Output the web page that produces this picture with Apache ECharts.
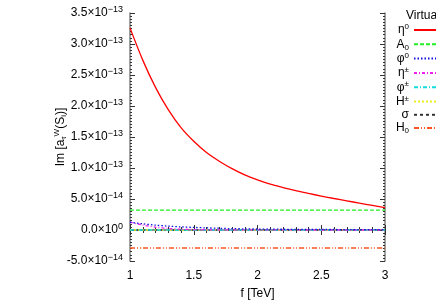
<!DOCTYPE html>
<html><head><meta charset="utf-8">
<script src="https://cdn.jsdelivr.net/npm/echarts@6/dist/echarts.min.js"></script>
<style>html,body{margin:0;padding:0;background:#fff}#c{width:436px;height:305px}</style>
</head><body><div id="c"></div>
<script>
// f in TeV
const fValues = [1.0,1.1,1.2,1.3,1.4,1.5,1.6,1.7,1.8,1.9,2.0,2.1,2.2,2.3,2.4,2.5,2.6,2.7,2.8,2.9,3.0];
// Im[a] values, in units of 1e-14
const eta0   = [32.6,27.4,23.0,19.4,16.5,14.3,12.5,11.1,9.9,8.9,8.1,7.4,6.85,6.35,5.9,5.48,5.08,4.7,4.33,3.97,3.6];
const A0     = [3.2,3.2,3.2,3.2,3.2,3.2,3.2,3.2,3.2,3.2,3.2,3.2,3.2,3.2,3.2,3.2,3.2,3.2,3.2,3.2,3.2];
const phi0   = [1.25,1.0,0.78,0.62,0.5,0.42,0.34,0.28,0.22,0.19,0.16,0.14,0.12,0.11,0.1,0.09,0.08,0.07,0.07,0.06,0.06];
const etaPM  = [1.25,0.8,0.45,0.25,0.13,0.07,0.04,0.03,0.02,0.02,0.01,0.01,0.01,0.01,0,0,0,0,0,0,0];
const phiPM  = [0,0,0,0,0,0,0,0,0,0,0,0,0,0,0,0,0,0,0,0,0];
const HPM    = [0,0,0,0,0,0,0,0,0,0,0,0,0,0,0,0,0,0,0,0,0];
const sigma  = [0,0,0,0,0,0,0,0,0,0,0,0,0,0,0,0,0,0,0,0,0];
const H0     = [-2.9,-2.9,-2.9,-2.9,-2.9,-2.9,-2.9,-2.9,-2.9,-2.9,-2.9,-2.9,-2.9,-2.9,-2.9,-2.9,-2.9,-2.9,-2.9,-2.9,-2.9];
const xTicks = [1, 1.5, 2, 2.5, 3];
const legendTitle = 'Virtual';
const seriesNames = ['η0','A0','φ0','η±','φ±','H±','σ','H0'];
const legendRich = {'η0':'{n|η}{p|0}','A0':'{n|A}{b|0}','φ0':'{n|φ}{p|0}','η±':'{n|η}{p|±}','φ±':'{n|φ}{p|±}','H±':'{n|H}{p|±}','σ':'{n|σ}','H0':'{n|H}{b|0}'};

const seriesData = [eta0, A0, phi0, etaPM, phiPM, HPM, sigma, H0];
const colors = ['#ff0000','#22ee22','#1010e0','#ee22ee','#11dddd','#eeee22','#333333','#ff5522'];
const dashes = ['solid',[4,2],[1.5,2],[3,2,1,2],[4,2,1,2],[2,2],[3,3],[5,2,1,2,1,2]];

const FONT = 'Liberation Sans';
function yFmt(v){
  if (Math.abs(v) < 1e-9) return '{m|0.0×10}{e|0}';
  const neg = v < 0 ? '-' : '';
  const a = Math.abs(v);
  if (a >= 10) return '{m|' + neg + (a/10).toFixed(1) + '×10}{e|−13}';
  return '{m|' + neg + a.toFixed(1) + '×10}{e|−14}';
}

const series = seriesNames.map((n,i)=>({
  name: n, type: 'line', symbol: 'none', showSymbol: false, smooth: 0.3,
  data: fValues.map((f,k)=>[f, seriesData[i][k]]),
  lineStyle: {color: colors[i], width: 1.3, type: dashes[i]},
  itemStyle: {color: colors[i]},
  z: 10 - i
}));

const axisLineStyle = {color:'#808080', width:1.5};
const tickStyle = {color:'#333', width:1};
const chart = echarts.init(document.getElementById('c'), null, {renderer:'canvas'});
chart.setOption({
  animation: false,
  backgroundColor: '#fff',
  textStyle: {fontFamily: FONT},
  title: {text: legendTitle, left: 406, top: 10, padding: 0,
    textStyle: {fontFamily: FONT, fontSize: 12, fontWeight: 'normal', color:'#000'}},
  legend: {
    orient: 'vertical', align: 'right', right: -14, top: 18,
    itemWidth: 30, itemHeight: 14, itemGap: 0.3,
    itemStyle: {opacity: 0, borderWidth: 0},
    data: seriesNames,
    formatter: n => legendRich[n],
    textStyle: {fontFamily: FONT, color:'#000', rich: {
      n: {fontSize: 12, fontFamily: FONT, color:'#000', lineHeight: 14},
      p: {fontSize: 8, fontFamily: FONT, color:'#000', lineHeight: 8, padding:[0,0,6,0]},
      b: {fontSize: 8, fontFamily: FONT, color:'#000', lineHeight: 8, padding:[6,0,0,0]}
    }}
  },
  grid: {left: 130, right: 51, top: 13, bottom: 36, containLabel: false},
  xAxis: [{
    type: 'value', min: 1, max: 3, interval: 0.5, position: 'bottom',
    name: 'f [TeV]', nameLocation: 'middle', nameGap: 27, nameMoveOverlap: false,
    nameTextStyle: {fontFamily: FONT, fontSize: 12, color:'#000'},
    axisLine: {show: true, lineStyle: axisLineStyle},
    axisTick: {inside: true, length: 5, lineStyle: tickStyle},
    minorTick: {show: true, splitNumber: 5, length: 3, lineStyle: tickStyle},
    axisLabel: {fontFamily: FONT, fontSize: 12, color:'#000', margin: 9,
      customValues: xTicks, formatter: v => String(v)},
    splitLine: {show: false}
  },{
    type: 'value', min: 1, max: 3, interval: 0.5, position: 'top',
    axisLine: {show: true, lineStyle: axisLineStyle},
    axisTick: {inside: true, length: 5, lineStyle: tickStyle},
    minorTick: {show: true, splitNumber: 5, length: 3, lineStyle: tickStyle},
    axisLabel: {show: false}, splitLine: {show: false}
  }],
  yAxis: [{
    type: 'value', min: -5, max: 35, interval: 5, position: 'left',
    name: '{t|Im [a}{s|τ}{p|W}{t|(S}{s|i}{t|)]}', nameLocation: 'middle', nameGap: 62, nameRotate: 90,
    nameMoveOverlap: false,
    nameTextStyle: {fontFamily: FONT, color:'#000', rich: {
      t: {fontSize: 12, fontFamily: FONT, color:'#000'},
      s: {fontSize: 8, fontFamily: FONT, color:'#000', padding:[6,0,0,0]},
      p: {fontSize: 8, fontFamily: FONT, color:'#000', padding:[0,0,7,0]}
    }},
    axisLine: {show: true, lineStyle: axisLineStyle},
    axisTick: {inside: true, length: 5, lineStyle: tickStyle},
    minorTick: {show: true, splitNumber: 10, length: 2, lineStyle: tickStyle},
    axisLabel: {margin: 7, formatter: yFmt, rich: {
      m: {fontSize: 12, fontFamily: FONT, color:'#000'},
      e: {fontSize: 9, fontFamily: FONT, color:'#000', padding:[0,0,7,0]}
    }},
    splitLine: {show: false}
  },{
    type: 'value', min: -5, max: 35, interval: 5, position: 'right',
    axisLine: {show: true, lineStyle: axisLineStyle},
    axisTick: {inside: true, length: 5, lineStyle: tickStyle},
    minorTick: {show: true, splitNumber: 10, length: 2, lineStyle: tickStyle},
    axisLabel: {show: false}, splitLine: {show: false}
  }],
  series: series
});
</script>
</body></html>
